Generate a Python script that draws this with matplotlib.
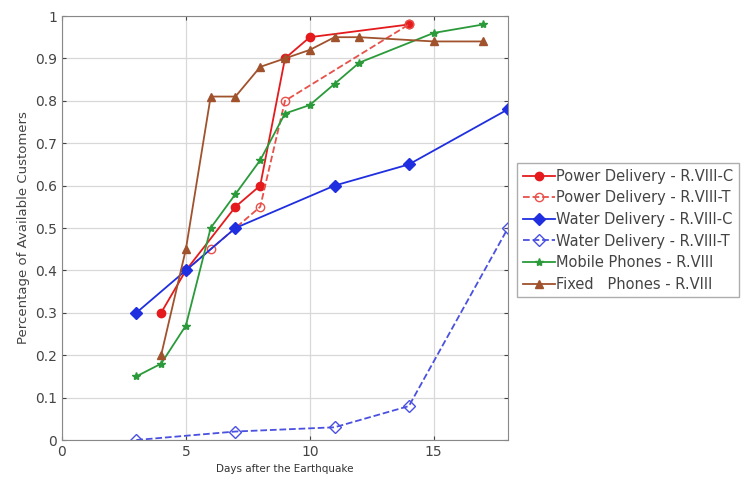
import matplotlib
matplotlib.use("Agg")
import matplotlib.pyplot as plt

power_c_x = [4, 5, 7, 8, 9, 10, 14]
power_c_y = [0.30, 0.40, 0.55, 0.60, 0.90, 0.95, 0.98]
power_t_x = [5, 6, 8, 9, 14]
power_t_y = [0.40, 0.45, 0.55, 0.80, 0.98]
water_c_x = [3, 5, 7, 11, 14, 18]
water_c_y = [0.30, 0.40, 0.50, 0.60, 0.65, 0.78]
water_t_x = [3, 7, 11, 14, 18]
water_t_y = [0.00, 0.02, 0.03, 0.08, 0.50]
mobile_x = [3, 4, 5, 6, 7, 8, 9, 10, 11, 12, 15, 17]
mobile_y = [0.15, 0.18, 0.27, 0.50, 0.58, 0.66, 0.77, 0.79, 0.84, 0.89, 0.96, 0.98]
fixed_x = [4, 5, 6, 7, 8, 9, 10, 11, 12, 15, 17]
fixed_y = [0.20, 0.45, 0.81, 0.81, 0.88, 0.90, 0.92, 0.95, 0.95, 0.94, 0.94]

labels = ["Power Delivery - R.VIII-C", "Power Delivery - R.VIII-T",
          "Water Delivery - R.VIII-C", "Water Delivery - R.VIII-T",
          "Mobile Phones - R.VIII", "Fixed   Phones - R.VIII"]

fig = plt.figure(figsize=(7.49, 4.83), dpi=100)
ax = fig.add_axes([62/749, 1-440/483, (508-62)/749, (440-16)/483])

ax.plot(power_c_x, power_c_y, '-o', color='#e41a1c', lw=1.3, ms=6, label=labels[0])
ax.plot(power_t_x, power_t_y, '--o', color='#e8504a', lw=1.3, ms=6, mfc='none', label=labels[1])
ax.plot(water_c_x, water_c_y, '-D', color='#1f2fe0', lw=1.3, ms=6, label=labels[2])
ax.plot(water_t_x, water_t_y, '--D', color='#4a50e0', lw=1.3, ms=6, mfc='none', label=labels[3])
ax.plot(mobile_x, mobile_y, '-*', color='#2a9a3a', lw=1.3, ms=6, label=labels[4])
ax.plot(fixed_x, fixed_y, '-^', color='#a0522d', lw=1.3, ms=6, label=labels[5])

ax.set_xlim(0, 18)
ax.set_ylim(0, 1)
ax.set_xticks([0, 5, 10, 15])
ax.set_yticks([i/10 for i in range(11)])
ax.set_yticklabels(['0', '0.1', '0.2', '0.3', '0.4', '0.5', '0.6', '0.7', '0.8', '0.9', '1'])
ax.grid(True, color='#d8d8d8', lw=0.9)
ax.tick_params(labelsize=10, colors='#444444', length=3, direction='in', right=True, top=True)
for s in ax.spines.values():
    s.set_color('#888888')
ax.set_xlabel('Days after the Earthquake', fontsize=7.5, color='#333333')
ax.set_ylabel('Percentage of Available Customers', fontsize=9.5, color='#444444')

leg = fig.legend(loc='upper left', bbox_to_anchor=(517/749, 1-163/483), fontsize=10.5,
                 frameon=True, fancybox=False, edgecolor='#999999', handlelength=2.2,
                 handletextpad=0.1, borderpad=0.4, labelspacing=0.45, borderaxespad=0)
for t in leg.get_texts():
    t.set_color('#444444')

fig.savefig('out.png', dpi=100)
